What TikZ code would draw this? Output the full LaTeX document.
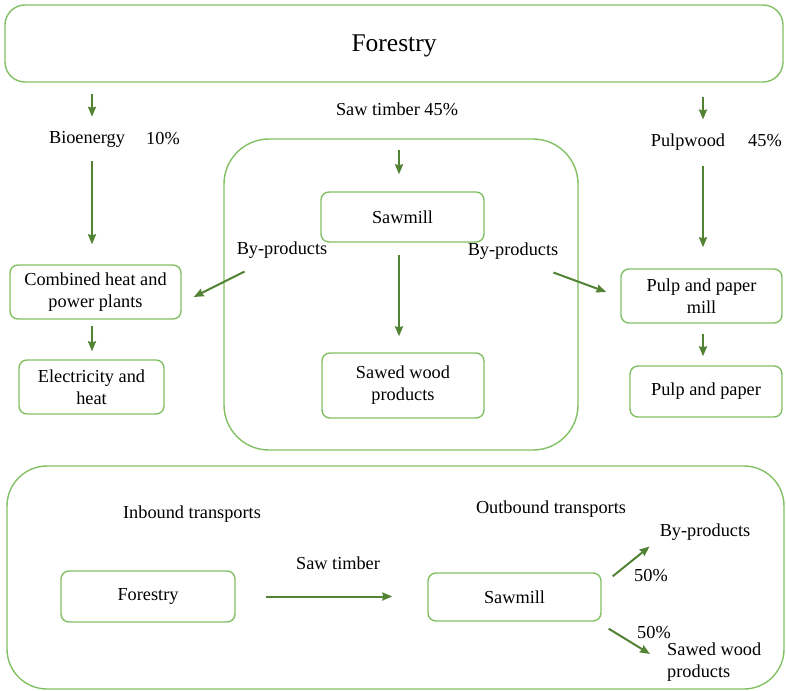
\documentclass[tikz,border=0pt]{standalone}
\usepackage{fontspec}
\setmainfont{Liberation Serif}
\usetikzlibrary{arrows.meta}
\definecolor{boxgreen}{RGB}{130,192,100}
\definecolor{arrowgreen}{RGB}{82,130,52}
\tikzset{
	box/.style={draw=boxgreen, line width=1.4pt, rounded corners=8pt, align=center, inner sep=0pt},
	frame/.style={draw=boxgreen, line width=1.4pt},
	lbl/.style={inner sep=1pt},
	arr/.style={draw=arrowgreen, line width=2pt, -{Stealth[length=10pt,width=8pt,inset=1pt]}}
}
\begin{document}
\begin{tikzpicture}[x=1pt,y=-1pt,font=\fontsize{18.3}{22}\selectfont]
			\useasboundingbox (0,0) rectangle (786,690);
			\coordinate (colL) at (92,0);
			\coordinate (colM) at (399,0);
			\coordinate (colR) at (703,0);
			% frames
			\draw[frame, rounded corners=45pt] (224,139) rectangle (578,450);
			\draw[frame, rounded corners=40pt] (7,466) rectangle (784,689);
			\node[box, rounded corners=20pt, minimum width=778pt, minimum height=77pt, text depth=0pt, font=\fontsize{25.5}{30}\selectfont] (forest) at (394,43.5) {Forestry};
			% boxes
			\node[box, minimum width=171pt, minimum height=54pt] (chp) at (95.5,292) {Combined heat and\\power plants};
			\node[box, minimum width=145pt, minimum height=54pt] (elec) at (91.5,387) {Electricity and\\heat};
			\node[box, minimum width=163pt, minimum height=50pt] (saw) at (402.5,217) {Sawmill};
			\node[box, minimum width=162pt, minimum height=65pt] (swp) at (403,385.5) {Sawed wood\\products};
			\node[box, minimum width=161pt, minimum height=54pt] (ppm) at (701.5,296) {Pulp and paper\\mill};
			\node[box, minimum width=152pt, minimum height=51pt] (pp) at (706,391.5) {Pulp and paper};
			\node[box, minimum width=174pt, minimum height=51pt] (bforest) at (148,596.5) {Forestry};
			\node[box, minimum width=173pt, minimum height=48pt] (bsaw) at (514.5,597) {Sawmill};
			% labels
			\node[lbl] (bio) at (87,139) {Bioenergy};
			\node[lbl] (biopct) at (163,139) {10\%};
			\node[lbl] (sawt) at (397,109) {Saw timber 45\%};
			\node[lbl] (pulpw) at (688,142) {Pulpwood};
			\node[lbl] (pulppct) at (765,141) {45\%};
			\node[lbl] (byl) at (282,250) {By-products};
			\node[lbl] (byr) at (513,251) {By-products};
			\node[lbl] (inb) at (192,514) {Inbound transports};
			\node[lbl] (outb) at (551,509) {Outbound transports};
			\node[lbl] (sawtb) at (338,563) {Saw timber};
			\node[lbl] (byb) at (705,532) {By-products};
			\node[lbl] (pcta) at (651,576) {50\%};
			\node[lbl] (pctb) at (654,633) {50\%};
			\node[lbl, align=left, anchor=west] (swpb) at (666,662) {Sawed wood\\products};
			% arrows
			\draw[arr, shorten <=11pt, shorten >=13pt] (forest.south -| colL) -- (bio.north -| colL);
			\draw[arr, shorten <=13pt, shorten >=20pt] (bio.south -| colL) -- (chp.north -| colL);
			\draw[arr, shorten <=6pt, shorten >=8pt] (chp.south -| colL) -- (elec.north -| colL);
			\draw[arr, shorten <=33pt, shorten >=17pt] (sawt.south -| colM) -- (saw.north -| colM);
			\draw[arr, shorten <=12pt, shorten >=16pt] (saw.south -| colM) -- (swp.north -| colM);
			\draw[arr, shorten <=14pt, shorten >=13pt] (forest.south -| colR) -- (pulpw.north -| colR);
			\draw[arr, shorten <=15pt, shorten >=21pt] (pulpw.south -| colR) -- (ppm.north -| colR);
			\draw[arr, shorten <=10pt, shorten >=9pt] (ppm.south -| colR) -- (pp.north -| colR);
			\draw[arr] ([shift={(9,12)}]byl.south west) -- ([shift={(12,5)}]chp.east);
			\draw[arr] ([shift={(-6,12)}]byr.south east) -- ([shift={(-14,-4)}]ppm.west);
			\draw[arr, shorten <=30pt, shorten >=35pt] (bforest.east) -- (bforest.east -| bsaw.west);
			\draw[arr] ([shift={(11,4)}]bsaw.north east) -- ([shift={(-9,5)}]byb.south west);
			\draw[arr] ([shift={(7,7)}]bsaw.south east) -- ([shift={(-16,-8)}]swpb.west);
\end{tikzpicture}
\end{document}
